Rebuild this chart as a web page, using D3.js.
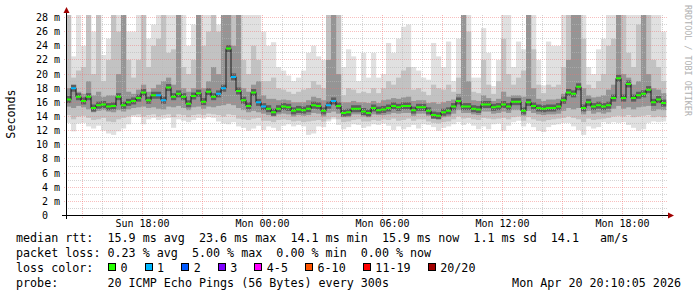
<!DOCTYPE html>
<html>
<head>
<meta charset="utf-8">
<script src="https://cdn.jsdelivr.net/npm/d3@7"></script>
<style>
  body { margin: 0; background: #ffffff; }
  text { font-family: "DejaVu Sans Mono", monospace; white-space: pre; }
</style>
</head>
<body>
<script>
const WIDTH = 697;
const HEIGHT = 297;

//one sample every 15 minutes, starting Sun 14:10
const START = new Date(2026, 3, 19, 14, 10);
const END = new Date(2026, 3, 20, 20, 10);
const STEP_MIN = 15;

//median rtt (ms)
var MEDIAN = [
  16.4, 18.0, 16.8, 16.2, 16.8, 15.2, 15.6, 15.7, 15.4, 15.5,
  16.8, 15.6, 16.0, 16.2, 16.6, 17.4, 16.3, 17.0, 17.0, 16.3,
  18.1, 16.8, 17.2, 16.8, 15.8, 16.9, 17.3, 16.1, 17.5, 16.8,
  17.2, 18.0, 23.6, 19.6, 17.6, 16.3, 15.5, 17.4, 16.0, 15.4,
  15.1, 14.6, 15.1, 15.4, 15.3, 14.8, 15.0, 14.9, 15.1, 15.6,
  15.5, 14.8, 15.6, 16.2, 15.5, 14.5, 14.6, 15.1, 15.1, 14.7,
  14.5, 15.2, 14.9, 15.0, 15.2, 15.5, 15.3, 15.5, 15.5, 14.9,
  15.3, 15.3, 14.8, 14.2, 14.1, 14.6, 14.8, 15.4, 16.2, 15.4,
  15.4, 15.1, 15.0, 15.7, 15.7, 15.3, 15.4, 15.7, 15.4, 16.1,
  16.1, 14.8, 16.0, 15.5, 15.2, 15.1, 15.2, 15.2, 15.4, 16.3,
  17.4, 17.2, 18.2, 15.2, 16.0, 15.4, 15.6, 15.4, 15.6, 16.6,
  19.4, 16.6, 18.6, 16.6, 17.0, 17.2, 17.8, 16.0, 16.4, 15.9
];

//lost pings out of 20
var LOSS = [
  0, 1, 0, 0, 0, 0, 0, 0, 0, 0,
  0, 0, 0, 0, 0, 0, 0, 0, 1, 1,
  0, 0, 0, 0, 0, 0, 0, 0, 0, 0,
  1, 1, 0, 1, 0, 0, 0, 0, 1, 1,
  0, 0, 0, 0, 0, 0, 0, 0, 0, 0,
  0, 0, 1, 1, 0, 0, 0, 0, 0, 0,
  0, 0, 0, 0, 0, 0, 0, 0, 0, 0,
  0, 0, 0, 0, 0, 0, 0, 0, 0, 0,
  0, 0, 0, 0, 0, 0, 0, 0, 0, 0,
  0, 0, 0, 0, 0, 0, 0, 0, 0, 0,
  0, 0, 0, 0, 0, 0, 0, 0, 0, 0,
  0, 0, 0, 0, 0, 0, 0, 0, 0, 0
];

//smoke: outer, middle and inner ping spread (ms)
var HI3 = [
  28.4, 22.5, 28.4, 24.0, 28.4, 26.0, 28.4, 22.7, 25.0, 28.4,
  28.4, 28.4, 26.0, 26.0, 28.4, 28.4, 25.0, 27.0, 28.4, 28.4,
  28.4, 28.4, 28.4, 28.4, 24.0, 27.0, 28.4, 28.4, 28.4, 28.4,
  27.0, 28.4, 28.4, 28.4, 28.4, 28.4, 28.4, 28.4, 28.4, 26.0,
  24.0, 24.5, 21.0, 20.5, 19.8, 19.0, 19.5, 20.5, 23.0, 24.0,
  22.5, 22.0, 28.4, 28.4, 28.4, 21.0, 23.5, 22.5, 19.0, 23.0,
  19.5, 23.0, 19.5, 20.0, 24.4, 23.0, 25.0, 26.7, 27.0, 21.0,
  20.5, 19.5, 19.2, 24.4, 22.5, 21.0, 24.6, 19.0, 25.0, 28.4,
  28.4, 19.5, 19.5, 26.5, 23.0, 18.3, 22.0, 28.4, 28.4, 21.0,
  24.6, 23.5, 28.4, 28.4, 22.0, 18.4, 24.6, 24.0, 24.0, 28.4,
  28.4, 28.4, 28.4, 28.4, 21.0, 20.0, 23.5, 25.0, 28.4, 28.4,
  28.4, 28.4, 28.4, 28.4, 28.4, 28.4, 28.4, 28.4, 28.4, 26.0
];
var HI2 = [
  28.4, 19.5, 20.5, 21.0, 28.4, 20.0, 28.4, 19.0, 22.0, 28.4,
  26.0, 28.4, 22.0, 19.5, 22.0, 28.4, 21.0, 24.0, 25.0, 28.4,
  23.0, 23.5, 28.4, 21.0, 20.0, 22.0, 28.4, 24.0, 26.0, 28.4,
  26.0, 28.4, 28.4, 28.4, 28.4, 22.0, 20.0, 24.0, 22.0, 19.0,
  19.0, 19.5, 18.0, 17.8, 17.5, 17.2, 17.5, 17.8, 18.0, 19.0,
  18.5, 18.0, 28.4, 28.4, 28.4, 17.0, 18.0, 17.8, 17.3, 17.5,
  17.3, 18.0, 17.3, 18.0, 19.0, 18.5, 19.5, 20.5, 21.0, 17.8,
  18.0, 17.5, 17.0, 18.5, 18.0, 17.8, 18.5, 17.5, 19.5, 28.4,
  26.0, 17.5, 17.3, 22.0, 18.5, 17.2, 19.0, 25.0, 20.0, 18.5,
  19.5, 20.5, 28.4, 23.5, 18.5, 17.3, 18.5, 18.2, 18.5, 21.0,
  28.4, 28.4, 28.4, 25.0, 18.5, 18.0, 19.0, 20.0, 24.0, 25.0,
  28.4, 28.4, 23.0, 21.0, 27.0, 28.4, 28.4, 22.0, 21.0, 19.0
];
var HI1 = [
  18.0, 18.2, 17.5, 17.2, 19.0, 17.0, 17.5, 16.8, 17.0, 17.0,
  20.0, 28.4, 17.5, 17.2, 17.8, 18.5, 17.5, 18.0, 18.5, 19.0,
  19.5, 18.5, 28.4, 18.0, 17.5, 18.0, 28.4, 18.0, 19.0, 21.0,
  20.0, 28.4, 28.4, 24.0, 28.4, 18.0, 17.5, 18.5, 19.0, 17.0,
  16.5, 16.5, 16.3, 16.4, 16.3, 16.0, 16.0, 16.0, 16.3, 16.8,
  16.6, 16.3, 22.0, 28.4, 20.0, 16.0, 16.0, 16.2, 16.0, 16.0,
  15.9, 16.2, 15.9, 16.3, 16.4, 16.6, 16.5, 16.7, 16.8, 16.2,
  16.3, 16.3, 15.9, 16.0, 15.8, 16.0, 16.2, 16.4, 17.2, 28.4,
  19.0, 16.3, 16.2, 17.0, 16.6, 16.2, 16.5, 17.5, 16.8, 17.0,
  17.0, 16.8, 28.4, 18.0, 16.5, 16.2, 16.4, 16.4, 16.5, 17.2,
  22.0, 28.4, 28.4, 18.0, 17.0, 16.7, 16.8, 17.0, 17.8, 18.5,
  28.4, 20.0, 19.5, 18.5, 19.0, 28.4, 20.0, 18.0, 17.8, 17.3
];
var LO1 = [
  15.4, 15.2, 15.5, 15.3, 15.0, 14.6, 14.8, 14.9, 14.7, 14.6,
  14.9, 14.7, 15.0, 15.2, 15.3, 15.4, 15.2, 15.3, 15.1, 15.0,
  15.4, 15.3, 15.5, 15.2, 14.9, 15.3, 15.4, 15.1, 15.4, 15.3,
  15.5, 15.6, 15.8, 15.6, 15.2, 14.9, 14.6, 14.8, 14.6, 14.4,
  14.2, 14.0, 14.3, 14.4, 14.3, 14.0, 14.2, 14.1, 14.2, 14.5,
  14.4, 14.0, 14.5, 14.7, 14.4, 13.9, 13.9, 14.3, 14.3, 14.0,
  13.9, 14.3, 14.2, 14.2, 14.3, 14.5, 14.4, 14.5, 14.5, 14.1,
  14.4, 14.4, 14.1, 13.7, 13.7, 13.9, 14.0, 14.4, 14.9, 14.5,
  14.5, 14.3, 14.2, 14.7, 14.7, 14.4, 14.5, 14.7, 14.5, 14.9,
  14.9, 14.1, 14.8, 14.5, 14.3, 14.2, 14.3, 14.3, 14.4, 14.8,
  15.2, 15.0, 15.2, 14.3, 14.8, 14.4, 14.6, 14.4, 14.6, 15.1,
  15.5, 15.1, 15.3, 15.0, 15.3, 15.4, 15.5, 14.8, 15.0, 14.9
];
var LO2 = [
  14.2, 13.6, 14.0, 14.1, 13.8, 13.5, 13.6, 13.8, 13.3, 13.2,
  13.6, 13.8, 14.0, 14.2, 14.3, 14.0, 14.2, 14.3, 14.0, 14.2,
  14.3, 13.9, 14.3, 14.2, 13.9, 14.2, 14.3, 14.2, 14.4, 14.3,
  14.2, 14.0, 14.3, 14.2, 13.7, 13.6, 13.5, 13.7, 13.8, 13.4,
  13.4, 13.2, 13.5, 13.6, 13.5, 13.3, 13.4, 13.2, 13.3, 13.4,
  13.5, 13.3, 13.6, 13.9, 13.6, 13.2, 13.3, 13.5, 13.6, 13.3,
  13.3, 13.5, 13.4, 13.6, 13.5, 13.7, 13.4, 13.5, 13.7, 13.4,
  13.6, 13.6, 13.3, 13.1, 13.0, 13.2, 13.3, 13.6, 14.0, 13.7,
  13.8, 13.6, 13.5, 13.8, 13.7, 13.6, 13.7, 13.8, 13.6, 13.9,
  14.0, 13.4, 13.9, 13.6, 13.4, 13.3, 13.5, 13.6, 13.7, 13.8,
  14.0, 13.8, 13.6, 13.2, 13.7, 13.5, 13.6, 13.7, 13.8, 14.0,
  14.1, 14.0, 14.2, 13.9, 14.0, 14.1, 14.2, 13.9, 14.0, 13.9
];
var LO3 = [
  13.1, 11.9, 13.0, 13.1, 12.6, 12.3, 12.7, 12.0, 11.6, 11.4,
  11.9, 12.3, 12.9, 14.0, 13.9, 12.9, 13.6, 13.8, 13.5, 13.7,
  13.8, 12.4, 13.6, 13.4, 13.2, 13.5, 13.8, 13.7, 13.9, 13.8,
  13.3, 13.0, 12.9, 13.2, 12.6, 12.4, 12.0, 12.3, 12.7, 12.1,
  12.6, 12.4, 12.0, 12.7, 12.9, 12.6, 12.8, 12.6, 11.4, 11.6,
  12.6, 12.5, 13.3, 13.6, 12.8, 12.2, 12.5, 12.9, 12.8, 12.4,
  12.6, 12.9, 12.8, 13.0, 12.7, 12.1, 12.6, 12.2, 12.5, 12.8,
  12.3, 12.9, 12.8, 12.5, 12.0, 12.4, 12.6, 12.9, 13.2, 12.8,
  13.1, 12.7, 12.2, 12.6, 12.2, 12.9, 13.0, 12.0, 12.7, 13.2,
  13.4, 12.6, 13.1, 12.5, 12.0, 11.8, 12.5, 12.8, 12.9, 13.1,
  13.1, 12.6, 12.1, 11.4, 12.6, 12.3, 12.5, 13.2, 13.0, 13.2,
  13.1, 13.2, 12.8, 12.4, 12.0, 12.2, 13.1, 13.3, 13.2, 13.3
];

//y tick labels
var Y_TICKS = [0, 2, 4, 6, 8, 10, 12, 14, 16, 18, 20, 22, 24, 26, 28];
var Y_LABELS = [" 0  ", " 2 m", " 4 m", " 6 m", " 8 m", "10 m", "12 m", "14 m",
  "16 m", "18 m", "20 m", "22 m", "24 m", "26 m", "28 m"];

//loss legend
var LOSS_LABELS = ["0", "1", "2", "3", "4-5", "6-10", "11-19", "20/20"];
var LOSS_COLORS = ["#26ff00", "#00b8ff", "#0059ff", "#7e00ff", "#ff00ff", "#ff5500", "#ff0000", "#a10000"];

//legend text
var LEGEND_LINES = [
  "median rtt:  15.9 ms avg  23.6 ms max  14.1 ms min  15.9 ms now  1.1 ms sd  14.1   am/s",
  "packet loss: 0.23 % avg  5.00 % max  0.00 % min  0.00 % now"
];
var PROBE_TEXT = "probe:       20 ICMP Echo Pings (56 Bytes) every 300s";
var STAMP_TEXT = "Mon Apr 20 20:10:05 2026";

var TIMES = d3.range(MEDIAN.length).map((i) => d3.timeMinute.offset(START, i * STEP_MIN));

function lossColor(n) {
  if (n <= 3) return LOSS_COLORS[n];
  if (n <= 5) return LOSS_COLORS[4];
  if (n <= 10) return LOSS_COLORS[5];
  if (n < 20) return LOSS_COLORS[6];
  return LOSS_COLORS[7];
}

//DEFINE scales
var xScale = d3.scaleTime().domain([START, END]).range([66, 666]);
var yScale = d3.scaleLinear().domain([0, 28]).range([215.5, 17.5]);
var TOP = 15;
var PLOT_LEFT = 66, PLOT_RIGHT = 667;

var svg = d3
  .select("body")
  .append("svg")
  .attr("width", WIDTH)
  .attr("height", HEIGHT);

svg.append("defs")
  .append("clipPath")
  .attr("id", "plot")
  .append("rect")
  .attr("x", PLOT_LEFT)
  .attr("y", TOP)
  .attr("width", PLOT_RIGHT - PLOT_LEFT)
  .attr("height", yScale(0) - TOP);

var plot = svg.append("g").attr("clip-path", "url(#plot)");

//Create smoke, outer bands first
var BANDS = [
  { hi: HI3, lo: LO3, fill: "#e0e0e0" },
  { hi: HI2, lo: LO2, fill: "#c2c2c2" },
  { hi: HI1, lo: LO1, fill: "#959595" }
];
var stepW = xScale(TIMES[1]) - xScale(TIMES[0]);

BANDS.forEach(function (b) {
  plot.append("g")
    .selectAll("rect")
    .data(TIMES)
    .enter()
    .append("rect")
    .attr("x", (d) => xScale(d))
    .attr("width", stepW + 0.2)
    .attr("y", (d, i) => yScale(b.hi[i]))
    .attr("height", (d, i) => yScale(b.lo[i]) - yScale(b.hi[i]))
    .attr("fill", b.fill);
});

//dark core around the median
plot.append("g")
  .selectAll("rect")
  .data(TIMES)
  .enter()
  .append("rect")
  .attr("x", (d) => xScale(d))
  .attr("width", stepW + 0.2)
  .attr("y", (d, i) => yScale(MEDIAN[i]) - 3.5)
  .attr("height", 7)
  .attr("fill", "#5e5e5e");

//Create grid
var grid = svg.append("g").attr("fill", "none").attr("stroke-dasharray", "1,1");
var minorY = d3.range(1, 29).filter((v) => v % 2 !== 0);
grid.selectAll(".gy")
  .data(minorY)
  .enter()
  .append("line")
  .attr("x1", PLOT_LEFT).attr("x2", PLOT_RIGHT + 1)
  .attr("y1", (d) => Math.floor(yScale(d)) + 0.5)
  .attr("y2", (d) => Math.floor(yScale(d)) + 0.5)
  .attr("stroke", "#b8b8b8")
  .attr("stroke-opacity", 0.6);

var hours = d3.timeHour.range(START, END);
grid.selectAll(".gx")
  .data(hours.filter((d) => d.getHours() % 3 !== 0))
  .enter()
  .append("line")
  .attr("x1", (d) => Math.floor(xScale(d)) + 0.5)
  .attr("x2", (d) => Math.floor(xScale(d)) + 0.5)
  .attr("y1", TOP).attr("y2", 218)
  .attr("stroke", "#b8b8b8")
  .attr("stroke-opacity", 0.6);

grid.selectAll(".my")
  .data(Y_TICKS.slice(1))
  .enter()
  .append("line")
  .attr("x1", PLOT_LEFT - 2).attr("x2", PLOT_RIGHT + 1)
  .attr("y1", (d) => Math.floor(yScale(d)) + 0.5)
  .attr("y2", (d) => Math.floor(yScale(d)) + 0.5)
  .attr("stroke", "#f07070")
  .attr("stroke-opacity", 0.45);

grid.selectAll(".mx")
  .data(hours.filter((d) => d.getHours() % 3 === 0))
  .enter()
  .append("line")
  .attr("x1", (d) => Math.floor(xScale(d)) + 0.5)
  .attr("x2", (d) => Math.floor(xScale(d)) + 0.5)
  .attr("y1", TOP).attr("y2", 219)
  .attr("stroke", "#f07070")
  .attr("stroke-opacity", 0.5);

//Create median line
var med = svg.append("g").attr("clip-path", "url(#plot)");
med.selectAll(".v")
  .data(TIMES.slice(1))
  .enter()
  .append("line")
  .attr("x1", (d) => xScale(d))
  .attr("x2", (d) => xScale(d))
  .attr("y1", (d, i) => yScale(MEDIAN[i]))
  .attr("y2", (d, i) => yScale(MEDIAN[i + 1]))
  .attr("stroke", "#1a1a1a")
  .attr("stroke-width", 1);

med.selectAll(".h")
  .data(TIMES)
  .enter()
  .append("line")
  .attr("x1", (d) => xScale(d))
  .attr("x2", (d) => xScale(d) + stepW)
  .attr("y1", (d, i) => yScale(MEDIAN[i]))
  .attr("y2", (d, i) => yScale(MEDIAN[i]))
  .attr("stroke", (d, i) => lossColor(LOSS[i]))
  .attr("stroke-width", 2);

//Create axes
svg.append("line")
  .attr("x1", 62).attr("x2", 669)
  .attr("y1", 215.5).attr("y2", 215.5)
  .attr("stroke", "#000000");
svg.append("line")
  .attr("x1", 66.5).attr("x2", 66.5)
  .attr("y1", 219).attr("y2", 11)
  .attr("stroke", "#000000");
svg.append("path")
  .attr("d", "M668,212.5 L674,215.5 L668,218.5 Z")
  .attr("fill", "#a00000");
svg.append("path")
  .attr("d", "M63.5,13 L66.5,7 L69.5,13 Z")
  .attr("fill", "#a00000");

//y labels
svg.append("g")
  .selectAll("text")
  .data(Y_TICKS)
  .enter()
  .append("text")
  .attr("x", 36)
  .attr("y", (d) => Math.floor(yScale(d)) + 4)
  .attr("font-size", "10px")
  .attr("fill", "#000000")
  .text((d, i) => Y_LABELS[i]);

//x labels
var fmt = d3.timeFormat("%a %H:%M");
svg.append("g")
  .selectAll("text")
  .data(hours.filter((d) => d.getHours() % 6 === 0))
  .enter()
  .append("text")
  .attr("x", (d) => Math.floor(xScale(d)) + 0.5)
  .attr("y", 227)
  .attr("text-anchor", "middle")
  .attr("font-size", "10px")
  .attr("fill", "#000000")
  .text((d) => fmt(d));

//titles
svg.append("text")
  .attr("transform", "translate(15,114) rotate(-90)")
  .attr("text-anchor", "middle")
  .attr("font-size", "11.7px")
  .attr("fill", "#000000")
  .text("Seconds");

svg.append("text")
  .attr("transform", "translate(685,5) rotate(90)")
  .attr("font-size", "8.4px")
  .attr("fill", "#b0b0b0")
  .text("RRDTOOL / TOBI OETIKER");

//legend
var CH = 7.08;
svg.append("g")
  .selectAll("text")
  .data(LEGEND_LINES)
  .enter()
  .append("text")
  .attr("x", 16)
  .attr("y", (d, i) => 242 + i * 15)
  .attr("font-size", "11.7px")
  .attr("fill", "#000000")
  .text((d) => d);

svg.append("text")
  .attr("x", 16).attr("y", 272)
  .attr("font-size", "11.7px")
  .text("loss color:");

var lx = 16 + 13 * CH;
var items = LOSS_LABELS.map(function (l, i) {
  var it = { label: l, color: LOSS_COLORS[i], x: lx };
  lx = lx + 12.5 + (l.length + 2.4) * CH;
  return it;
});
var leg = svg.append("g").selectAll("g").data(items).enter().append("g");
leg.append("rect")
  .attr("x", (d) => Math.round(d.x) + 0.5)
  .attr("y", 263.5)
  .attr("width", 7)
  .attr("height", 7)
  .attr("fill", (d) => d.color)
  .attr("stroke", "#000000");
leg.append("text")
  .attr("x", (d) => d.x + 12.5)
  .attr("y", 272)
  .attr("font-size", "11.7px")
  .text((d) => d.label);

svg.append("text")
  .attr("x", 16).attr("y", 287)
  .attr("font-size", "11.7px")
  .text(PROBE_TEXT);
svg.append("text")
  .attr("x", 681).attr("y", 287)
  .attr("text-anchor", "end")
  .attr("font-size", "11.7px")
  .text(STAMP_TEXT);
</script>
</body>
</html>
